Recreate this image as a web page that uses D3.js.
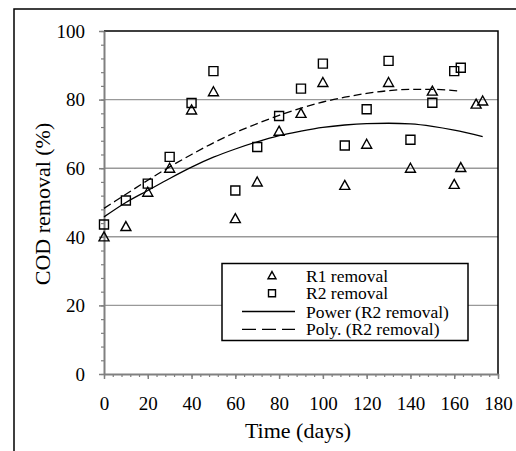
<!DOCTYPE html>
<html>
<head>
<meta charset="utf-8">
<script src="https://cdn.jsdelivr.net/npm/d3@7"></script>
<style>
  body { margin: 0; background: #fff; }
  svg { display: block; }
  svg text { font-family: 'Liberation Serif', 'Times New Roman', Times, 'DejaVu Serif', serif; }
</style>
</head>
<body>
<svg width="516" height="451"></svg>
<script>
const svg = d3.select("svg");

// measured data
const r1Days = [0, 10, 20, 30, 40, 50, 60, 70, 80, 90, 100, 110, 120, 130, 140, 150, 160, 163, 170, 173];
const r1Removal = [40, 43, 53, 60, 77, 82.3, 45.3, 56, 70.8, 76, 85, 55, 67, 85, 60, 82.5, 55.3, 60.2, 78.7, 79.6];

const r2Days = [0, 10, 20, 30, 40, 50, 60, 70, 80, 90, 100, 110, 120, 130, 140, 150, 160, 163];
const r2Removal = [43.6, 50.6, 55.5, 63.3, 79, 88.3, 53.5, 66.2, 75.2, 83.2, 90.5, 66.6, 77.2, 91.3, 68.3, 79.1, 88.3, 89.3];

// trend lines
const powerDays = [0, 10, 20, 30, 40, 50, 60, 70, 80, 90, 100, 110, 120, 130, 140, 150, 160, 173];
const powerFit = [45.8, 50, 53.5, 57, 60.3, 63.2, 65.6, 67.7, 69.5, 70.8, 71.9, 72.6, 73, 73.1, 72.9, 72.2, 71.1, 69.2];

const polyDays = [0, 10, 20, 30, 40, 50, 60, 70, 80, 90, 100, 110, 120, 130, 140, 150, 160, 163];
const polyFit = [48.3, 52.4, 56.5, 60.4, 64, 67.4, 70.4, 73, 75.4, 77.5, 79.3, 80.7, 81.8, 82.6, 83, 83, 82.6, 82.4];

const xTicks = [0, 20, 40, 60, 80, 100, 120, 140, 160, 180];
const yTicks = [0, 20, 40, 60, 80, 100];

const legendItems = ["R1 removal", "R2 removal", "Power (R2 removal)", "Poly. (R2 removal)"];

const plot = { left: 104, right: 498, top: 31, bottom: 374 };

const x = d3.scaleLinear().domain([0, 180]).range([plot.left, plot.right]);
const y = d3.scaleLinear().domain([0, 100]).range([plot.bottom, plot.top]);

// outer chart border (runs off the right and bottom edge)
svg.append("rect")
  .attr("x", 14).attr("y", 9)
  .attr("width", 600).attr("height", 600)
  .attr("fill", "none").attr("stroke", "#000").attr("stroke-width", 1.5);

// gridlines
svg.append("g")
  .selectAll("line")
  .data(yTicks.filter(d => d > 0 && d < 100))
  .join("line")
  .attr("x1", plot.left).attr("x2", plot.right)
  .attr("y1", d => y(d)).attr("y2", d => y(d))
  .attr("stroke", "#999").attr("stroke-width", 1.4);

// plot area top + right border
svg.append("path")
  .attr("d", `M${plot.left},${plot.top}H${plot.right}V${plot.bottom}`)
  .attr("fill", "none").attr("stroke", "#000").attr("stroke-width", 1.5);

// minor ticks
const minorX = d3.range(0, 181, 4);
const minorY = d3.range(0, 101, 4);

svg.append("g")
  .attr("transform", `translate(0,${plot.bottom})`)
  .call(d3.axisBottom(x).tickValues(minorX).tickSize(3).tickFormat(""))
  .call(g => g.select(".domain").remove())
  .call(g => g.selectAll("line").attr("stroke", "#808080").attr("stroke-width", 1.2));

svg.append("g")
  .attr("transform", `translate(${plot.left},0)`)
  .call(d3.axisLeft(y).tickValues(minorY).tickSize(3).tickFormat(""))
  .call(g => g.select(".domain").remove())
  .call(g => g.selectAll("line").attr("stroke", "#808080").attr("stroke-width", 1.2));

// major axes
const xAxis = svg.append("g")
  .attr("transform", `translate(0,${plot.bottom})`)
  .call(d3.axisBottom(x).tickValues(xTicks).tickSize(5).tickSizeOuter(0).tickPadding(18));

const yAxis = svg.append("g")
  .attr("transform", `translate(${plot.left},0)`)
  .call(d3.axisLeft(y).tickValues(yTicks).tickSize(5).tickSizeOuter(0).tickPadding(14));

[xAxis, yAxis].forEach(g => {
  g.attr("font-family", null).attr("font-size", 19);
  g.select(".domain").attr("stroke", "#808080").attr("stroke-width", 2);
  g.selectAll(".tick line").attr("stroke", "#808080").attr("stroke-width", 1.5);
  g.selectAll(".tick text").attr("fill", "#000");
});
yAxis.selectAll(".tick text").attr("dy", "0.33em");

// axis titles
svg.append("text")
  .attr("x", 298).attr("y", 438)
  .attr("text-anchor", "middle")
  .attr("font-size", 22)
  .text("Time (days)");

svg.append("text")
  .attr("transform", "translate(50,204) rotate(-90)")
  .attr("text-anchor", "middle")
  .attr("font-size", 22)
  .text("COD removal (%)");

// trend lines
const line = d3.line()
  .x(d => x(d[0]))
  .y(d => y(d[1]))
  .curve(d3.curveMonotoneX);

svg.append("path")
  .attr("d", line(d3.zip(powerDays, powerFit)))
  .attr("fill", "none").attr("stroke", "#000").attr("stroke-width", 1.3);

svg.append("path")
  .attr("d", line(d3.zip(polyDays, polyFit)))
  .attr("fill", "none").attr("stroke", "#000").attr("stroke-width", 1.3)
  .attr("stroke-dasharray", "8,4");

// markers
function trianglePath(w) {
  const h = w * 0.9;
  return `M0,${-h * 0.55}L${w / 2},${h * 0.45}L${-w / 2},${h * 0.45}Z`;
}
function squarePath(w) {
  const s = w / 2;
  return `M${-s},${-s}H${s}V${s}H${-s}Z`;
}

svg.append("g")
  .selectAll("path")
  .data(d3.zip(r1Days, r1Removal))
  .join("path")
  .attr("transform", d => `translate(${x(d[0])},${y(d[1])})`)
  .attr("d", trianglePath(10))
  .attr("fill", "none").attr("stroke", "#000").attr("stroke-width", 1.4);

svg.append("g")
  .selectAll("path")
  .data(d3.zip(r2Days, r2Removal))
  .join("path")
  .attr("transform", d => `translate(${x(d[0])},${y(d[1])})`)
  .attr("d", squarePath(9))
  .attr("fill", "none").attr("stroke", "#000").attr("stroke-width", 1.4);

// legend
const legend = svg.append("g");
legend.append("rect")
  .attr("x", 222).attr("y", 263.5)
  .attr("width", 246).attr("height", 77)
  .attr("fill", "#fff").attr("stroke", "#000").attr("stroke-width", 1.5);

const rowY = [275.5, 293.3, 311.5, 329.3];

legend.append("path")
  .attr("transform", `translate(272,${rowY[0]})`)
  .attr("d", trianglePath(8))
  .attr("fill", "none").attr("stroke", "#000").attr("stroke-width", 1.4);
legend.append("path")
  .attr("transform", `translate(272,${rowY[1]})`)
  .attr("d", squarePath(7))
  .attr("fill", "none").attr("stroke", "#000").attr("stroke-width", 1.4);
legend.append("line")
  .attr("x1", 242).attr("x2", 295).attr("y1", rowY[2]).attr("y2", rowY[2])
  .attr("stroke", "#000").attr("stroke-width", 1.3);
legend.append("line")
  .attr("x1", 242).attr("x2", 295).attr("y1", rowY[3]).attr("y2", rowY[3])
  .attr("stroke", "#000").attr("stroke-width", 1.3)
  .attr("stroke-dasharray", "14,6");

legend.selectAll("text")
  .data(legendItems)
  .join("text")
  .attr("x", 306)
  .attr("y", (d, i) => rowY[i] + 6)
  .attr("font-size", 17.5)
  .text(d => d);
</script>
</body>
</html>
